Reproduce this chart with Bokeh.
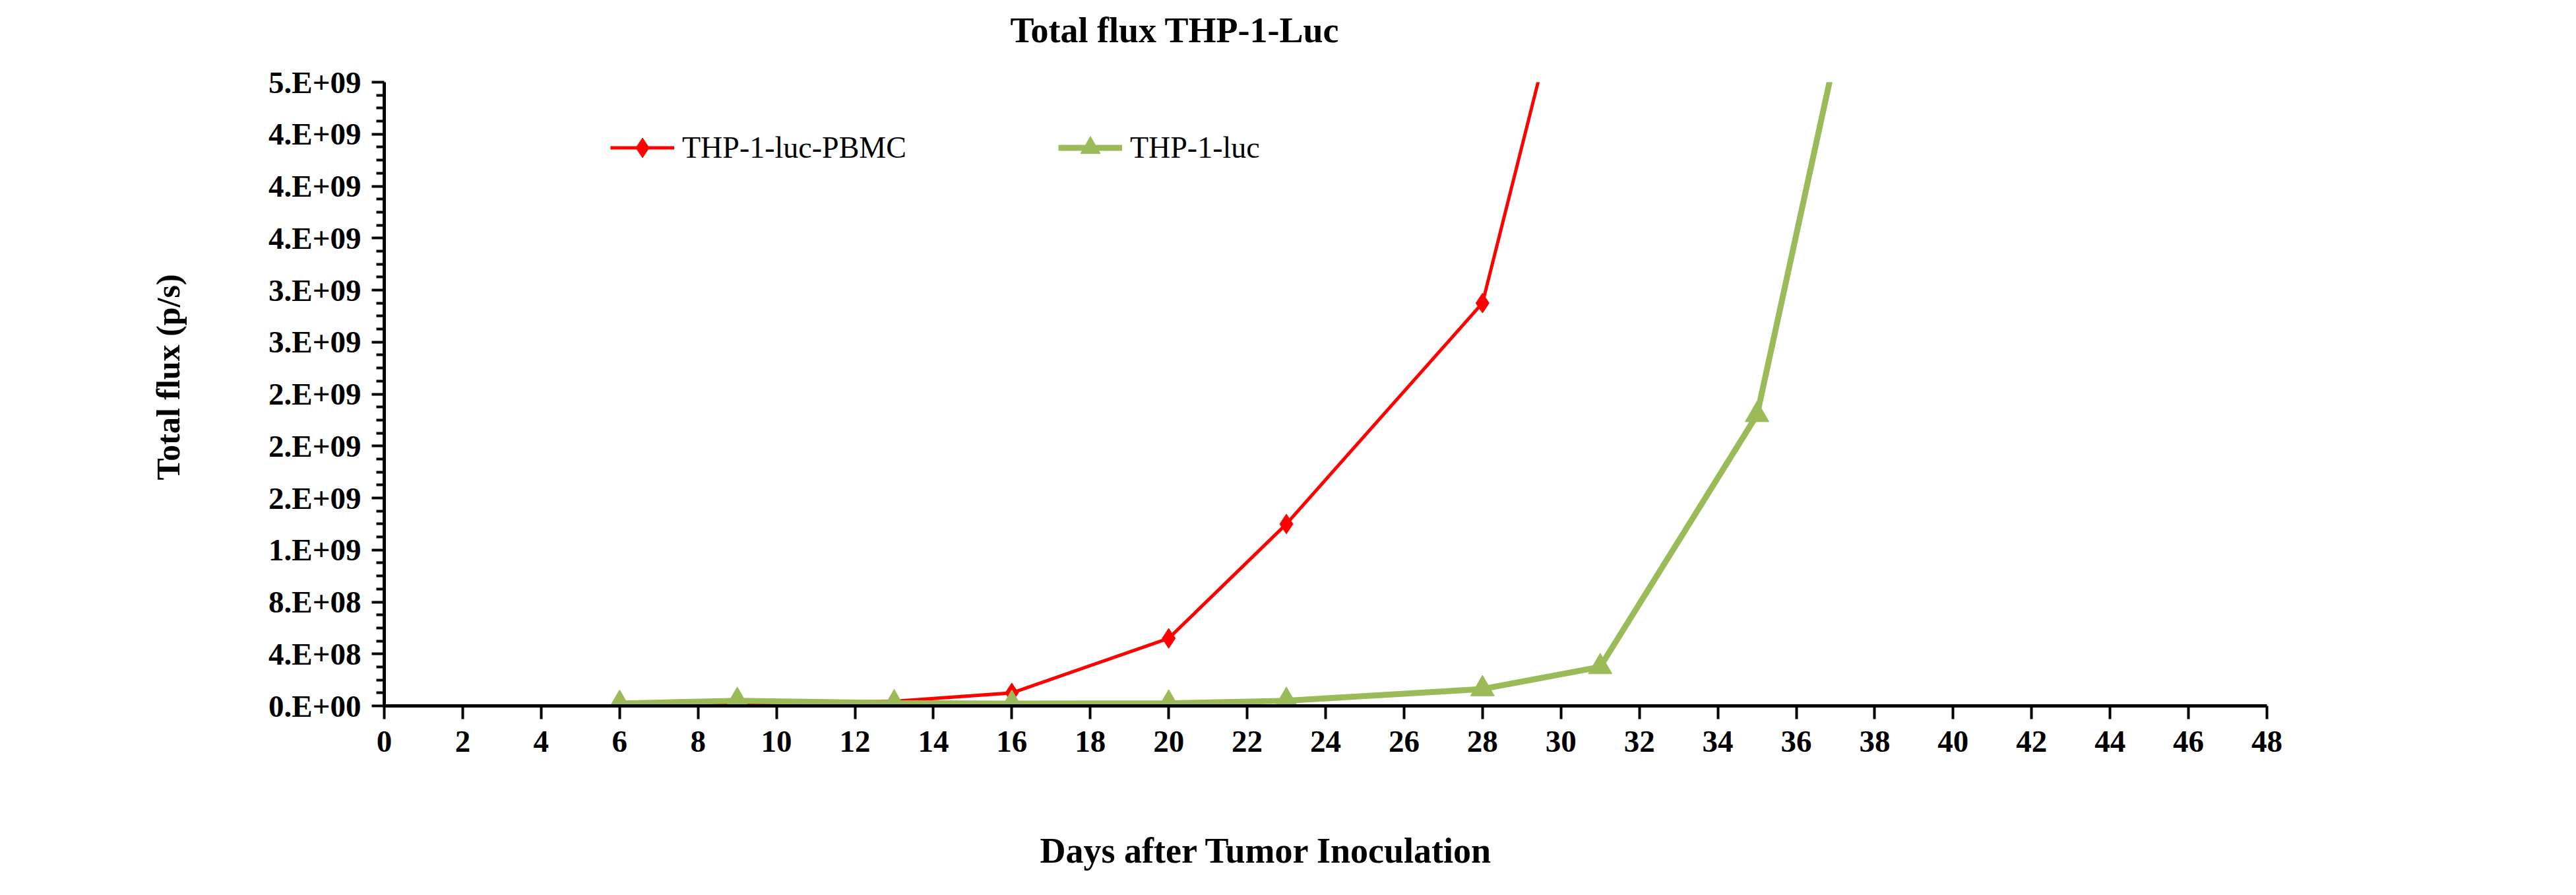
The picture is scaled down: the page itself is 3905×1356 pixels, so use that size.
from bokeh.plotting import figure
from bokeh.models import Range1d, FixedTicker, Legend, LegendItem, LinearAxis, Title
from bokeh.embed import file_html
from bokeh.resources import INLINE

# ---------------- data ----------------
series_names = ["THP-1-luc-PBMC", "THP-1-luc"]

days_pbmc = [6, 9, 13, 16, 20, 23, 28, 31]
flux_pbmc = [0.005e9, 0.02e9, 0.035e9, 0.10e9, 0.52e9, 1.40e9, 3.10e9, 6.70e9]

days_luc = [6, 9, 13, 16, 20, 23, 28, 31, 35, 38]
flux_luc = [0.018e9, 0.04e9, 0.022e9, 0.018e9, 0.02e9, 0.04e9, 0.13e9, 0.30e9, 2.24e9, 6.40e9]

x_ticks = [0, 2, 4, 6, 8, 10, 12, 14, 16, 18, 20, 22, 24, 26, 28, 30, 32, 34, 36, 38, 40, 42, 44, 46, 48]
y_ticks = [0.0, 4e8, 8e8, 1.2e9, 1.6e9, 2.0e9, 2.4e9, 2.8e9, 3.2e9, 3.6e9, 4.0e9, 4.4e9, 4.8e9]
y_tick_labels = ["0.E+00", "4.E+08", "8.E+08", "1.E+09", "2.E+09", "2.E+09", "2.E+09",
                 "3.E+09", "3.E+09", "4.E+09", "4.E+09", "4.E+09", "5.E+09"]
y_minor_ticks = [1e8, 2e8, 3e8, 5e8, 6e8, 7e8, 9e8, 1.0e9, 1.1e9, 1.3e9, 1.4e9, 1.5e9,
                 1.7e9, 1.8e9, 1.9e9, 2.1e9, 2.2e9, 2.3e9, 2.5e9, 2.6e9, 2.7e9, 2.9e9, 3.0e9, 3.1e9,
                 3.3e9, 3.4e9, 3.5e9, 3.7e9, 3.8e9, 3.9e9, 4.1e9, 4.2e9, 4.3e9, 4.5e9, 4.6e9, 4.7e9]

title_text = "Total flux THP-1-Luc"
x_label_text = "Days after Tumor Inoculation"
y_label_text = "Total flux  (p/s)"

RED = "#FF0000"
GREEN = "#9BBB59"
SERIF = "Liberation Serif"

# ---------------- figure ----------------
p = figure(
    frame_width=2854, frame_height=945,
    x_range=Range1d(0, 48), y_range=Range1d(0, 4.8e9),
    min_border_left=582, min_border_right=449, min_border_top=124, min_border_bottom=266,
    output_backend="svg", toolbar_location=None,
)
p.outline_line_color = None
p.xgrid.visible = False
p.ygrid.visible = False
p.background_fill_color = "white"
p.border_fill_color = "white"

red_line = p.line(days_pbmc, flux_pbmc, line_color=RED, line_width=5)
red_pts = p.scatter(days_pbmc, flux_pbmc, marker="diamond", size=30,
                    fill_color=RED, line_color=RED)
green_line = p.line(days_luc, flux_luc, line_color=GREEN, line_width=9)
green_pts = p.scatter(days_luc, flux_luc, marker="triangle", size=36,
                      fill_color=GREEN, line_color=GREEN)

# ---------------- axes ----------------
xa = p.xaxis[0]
xa.ticker = FixedTicker(ticks=x_ticks)
xa.axis_line_width = 5
xa.axis_line_color = "black"
xa.major_tick_out = 20
xa.major_tick_in = 0
xa.major_tick_line_width = 4
xa.major_tick_line_color = "black"
xa.minor_tick_line_color = None
xa.major_label_standoff = 18
xa.major_label_text_font = SERIF
xa.major_label_text_font_style = "bold"
xa.major_label_text_font_size = "47px"
xa.major_label_text_color = "black"

ya = p.yaxis[0]
ya.ticker = FixedTicker(ticks=y_ticks, minor_ticks=y_minor_ticks)
ya.major_label_overrides = {t: s for t, s in zip(y_ticks, y_tick_labels)}
ya.axis_line_width = 5
ya.axis_line_color = "black"
ya.major_tick_out = 19
ya.major_tick_in = 0
ya.major_tick_line_width = 4
ya.major_tick_line_color = "black"
ya.minor_tick_out = 12
ya.minor_tick_in = 0
ya.minor_tick_line_width = 4
ya.minor_tick_line_color = "black"
ya.major_label_standoff = 16
ya.major_label_text_font = SERIF
ya.major_label_text_font_style = "bold"
ya.major_label_text_font_size = "47px"
ya.major_label_text_color = "black"


def spacer_axis(size):
    """Blank axis (white-on-white, one unlabeled tick between the visible ticks)
    used only to reserve space in a side panel."""
    return LinearAxis(ticker=FixedTicker(ticks=[1]), major_label_overrides={1: ""},
                      axis_line_color=None, major_tick_line_color="white",
                      major_tick_line_width=1,
                      minor_tick_line_color=None, major_tick_out=size, minor_tick_out=0,
                      major_tick_in=0, minor_tick_in=0, major_label_standoff=0,
                      major_label_text_font_size="1px", major_label_text_color="white")


# main title (above, pushed away from the frame by a spacer)
p.add_layout(spacer_axis(49), "above")
p.title.text = title_text
p.title.align = "left"
p.title.offset = 949
p.title.vertical_align = "bottom"
p.title.standoff = 0
p.title.text_font = SERIF
p.title.text_font_style = "bold"
p.title.text_font_size = "54px"
p.title.text_color = "black"

# x-axis title
p.add_layout(spacer_axis(117), "below")
p.add_layout(Title(text=x_label_text, align="left", offset=994, vertical_align="top",
                   standoff=0, text_font=SERIF, text_font_style="bold",
                   text_font_size="54px", text_color="black"), "below")

# y-axis title
p.add_layout(Title(text=y_label_text, align="left", offset=342, vertical_align="bottom",
                   standoff=244, text_font=SERIF, text_font_style="bold",
                   text_font_size="50px", text_color="black"), "left")

# ---------------- legend ----------------
legend = Legend(
    items=[LegendItem(label=series_names[0], renderers=[red_line, red_pts]),
           LegendItem(label=series_names[1], renderers=[green_line, green_pts])],
    location=(343, 808), orientation="horizontal",
    glyph_width=97, glyph_height=75, label_height=75, label_standoff=12,
    spacing=230, padding=0, margin=0,
    border_line_color=None, background_fill_alpha=0,
    label_text_font=SERIF, label_text_font_size="46px", label_text_color="black",
)
p.add_layout(legend)

open("out.html", "w").write(file_html(p, INLINE, title="Total flux THP-1-Luc"))
